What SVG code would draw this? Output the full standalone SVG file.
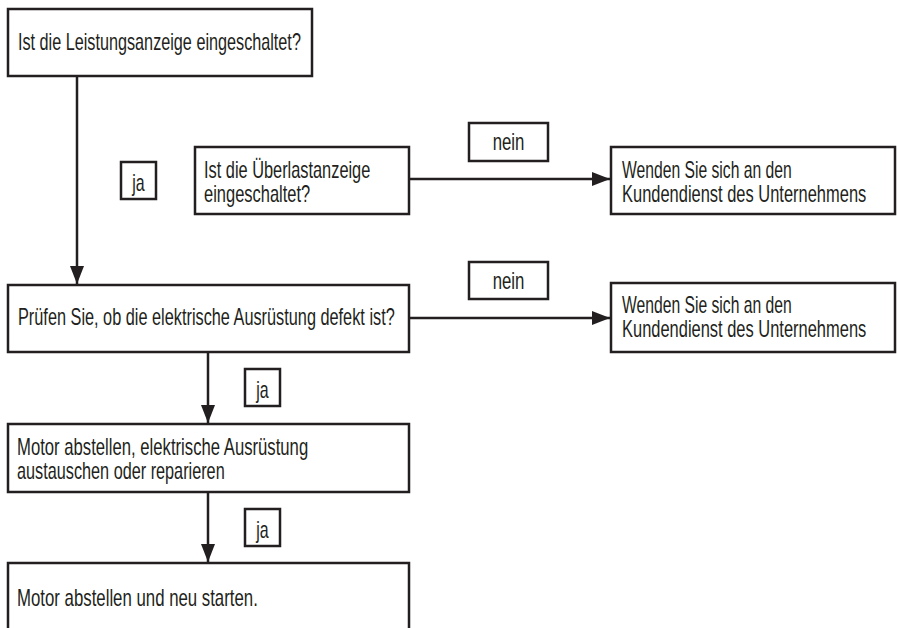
<svg xmlns="http://www.w3.org/2000/svg" width="897" height="628" viewBox="0 0 897 628">
<defs>
<style>
.box{fill:#fff;stroke:#231f20;stroke-width:2.5}
.lbl{fill:#fff;stroke:#231f20;stroke-width:2.5}
.t{font-family:"Liberation Sans",Arial,sans-serif;font-size:23px;fill:#231f20}
.c{text-anchor:middle}
.line{stroke:#231f20;stroke-width:2.5;fill:none}
</style>
<marker id="ah" viewBox="0 0 18 14" refX="18" refY="7" markerWidth="18" markerHeight="14" markerUnits="userSpaceOnUse" orient="auto">
<path d="M0,0 L18,7 L0,14 Z" fill="#231f20"/>
</marker>
</defs>
<rect width="897" height="628" fill="#fff"/>
<g id="connectors">
<line class="line" x1="77" y1="76" x2="77" y2="284" marker-end="url(#ah)"/>
<line class="line" x1="409" y1="179" x2="610" y2="179" marker-end="url(#ah)"/>
<line class="line" x1="409" y1="318" x2="610" y2="318" marker-end="url(#ah)"/>
<line class="line" x1="208" y1="352" x2="208" y2="423" marker-end="url(#ah)"/>
<line class="line" x1="208" y1="492" x2="208" y2="562" marker-end="url(#ah)"/>
</g>
<g id="n1">
<rect class="box" x="8" y="9" width="304" height="67"/>
<text class="t" transform="matrix(0.69 0 0 1 18 50)" textLength="410" lengthAdjust="spacingAndGlyphs">Ist die Leistungsanzeige eingeschaltet?</text>
</g>
<g id="lbl-ja1">
<rect class="lbl" x="121" y="162" width="35" height="37"/>
<text class="t c" transform="matrix(0.69 0 0 1 138.5 191)" textLength="18" lengthAdjust="spacingAndGlyphs">ja</text>
</g>
<g id="n2">
<rect class="box" x="195" y="147" width="214" height="67"/>
<text class="t" transform="matrix(0.69 0 0 1 204 178)" textLength="241" lengthAdjust="spacingAndGlyphs">Ist die Überlastanzeige</text>
<text class="t" transform="matrix(0.69 0 0 1 204 202)" textLength="154" lengthAdjust="spacingAndGlyphs">eingeschaltet?</text>
</g>
<g id="lbl-nein1">
<rect class="lbl" x="469" y="123" width="79" height="38"/>
<text class="t c" transform="matrix(0.69 0 0 1 508.5 150)" textLength="46" lengthAdjust="spacingAndGlyphs">nein</text>
</g>
<g id="n3">
<rect class="box" x="611" y="147" width="284" height="67"/>
<text class="t" transform="matrix(0.69 0 0 1 622 178)" textLength="246" lengthAdjust="spacingAndGlyphs">Wenden Sie sich an den</text>
<text class="t" transform="matrix(0.69 0 0 1 622 202)" textLength="354" lengthAdjust="spacingAndGlyphs">Kundendienst des Unternehmens</text>
</g>
<g id="n4">
<rect class="box" x="8" y="285" width="401" height="67"/>
<text class="t" transform="matrix(0.69 0 0 1 18 325)" textLength="546" lengthAdjust="spacingAndGlyphs">Prüfen Sie, ob die elektrische Ausrüstung defekt ist?</text>
</g>
<g id="lbl-nein2">
<rect class="lbl" x="469" y="262" width="79" height="37"/>
<text class="t c" transform="matrix(0.69 0 0 1 508.5 289)" textLength="46" lengthAdjust="spacingAndGlyphs">nein</text>
</g>
<g id="n5">
<rect class="box" x="611" y="283" width="284" height="69"/>
<text class="t" transform="matrix(0.69 0 0 1 622 313)" textLength="246" lengthAdjust="spacingAndGlyphs">Wenden Sie sich an den</text>
<text class="t" transform="matrix(0.69 0 0 1 622 337)" textLength="354" lengthAdjust="spacingAndGlyphs">Kundendienst des Unternehmens</text>
</g>
<g id="lbl-ja2">
<rect class="lbl" x="245" y="369" width="35" height="37"/>
<text class="t c" transform="matrix(0.69 0 0 1 262.5 398)" textLength="18" lengthAdjust="spacingAndGlyphs">ja</text>
</g>
<g id="n6">
<rect class="box" x="8" y="424" width="401" height="68"/>
<text class="t" transform="matrix(0.69 0 0 1 17 455)" textLength="422" lengthAdjust="spacingAndGlyphs">Motor abstellen, elektrische Ausrüstung</text>
<text class="t" transform="matrix(0.69 0 0 1 17 479)" textLength="301" lengthAdjust="spacingAndGlyphs">austauschen oder reparieren</text>
</g>
<g id="lbl-ja3">
<rect class="lbl" x="245" y="509" width="35" height="37"/>
<text class="t c" transform="matrix(0.69 0 0 1 262.5 538)" textLength="18" lengthAdjust="spacingAndGlyphs">ja</text>
</g>
<g id="n7">
<rect class="box" x="8" y="563" width="401" height="80"/>
<text class="t" transform="matrix(0.69 0 0 1 17 606)" textLength="349" lengthAdjust="spacingAndGlyphs">Motor abstellen und neu starten.</text>
</g>
</svg>
